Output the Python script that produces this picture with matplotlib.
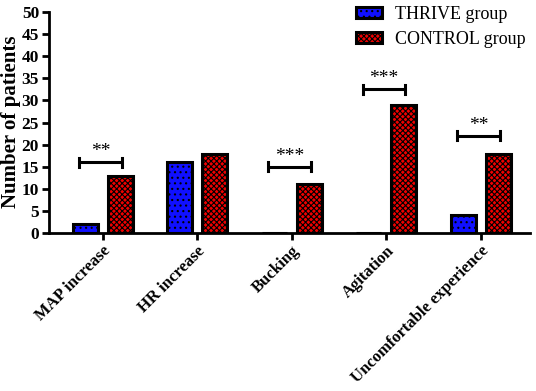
import numpy as np
import matplotlib
matplotlib.use("Agg")
import matplotlib.pyplot as plt

plt.rcParams['font.family'] = ['Liberation Serif', 'DejaVu Serif']
plt.rcParams['hatch.linewidth'] = 0.8

categories = ["MAP increase", "HR increase", "Bucking", "Agitation", "Uncomfortable experience"]
thrive = [2, 16, 0, 0, 4]
control = [13, 18, 11, 29, 18]

# significance brackets: category index, height, label
sig_idx = [0, 2, 3, 4]
sig_y = [16, 15, 32.5, 22]
sig_txt = ["**", "***", "***", "**"]

fig = plt.figure(figsize=(5.36, 3.91), dpi=100)
ax = fig.add_axes([0.091, 0.404, 0.898, 0.565])

x = np.arange(len(categories))
w = 0.265
off = 0.185
ax.bar(x - off, thrive, w, color='#1010ff', edgecolor='black', linewidth=2.2,
       hatch='...', label='THRIVE group', zorder=3)
ax.bar(x + off, control, w, color='#f00000', edgecolor='black', linewidth=2.2,
       hatch='xxxxxx', label='CONTROL group', zorder=3)

for i, yv, t in zip(sig_idx, sig_y, sig_txt):
    x0 = i - 0.25
    x1 = i + 0.2
    ax.plot([x0, x1], [yv, yv], color='black', lw=2.2, solid_capstyle='butt')
    ax.plot([x0, x0], [yv - 1, yv + 1], color='black', lw=2.2)
    ax.plot([x1, x1], [yv - 1, yv + 1], color='black', lw=2.2)
    ax.text((x0 + x1) / 2, yv + 0.5, t, ha='center', va='bottom', fontsize=14)

ax.set_xlim(-0.57, 4.52)
ax.set_ylim(0, 50)
ax.set_yticks(range(0, 51, 5))
ax.set_xticks(x)
ax.set_xticklabels(categories, rotation=45, ha='right', rotation_mode='anchor',
                   fontsize=12, fontweight='bold')
for lab in ax.get_yticklabels():
    lab.set_fontweight('bold')
    lab.set_fontsize(12.5)
ax.set_ylabel('Number of patients', fontsize=15, fontweight='bold')
ax.yaxis.set_label_coords(-0.057, 0.505)

ax.spines['top'].set_visible(False)
ax.spines['right'].set_visible(False)
ax.spines['left'].set_linewidth(2)
ax.spines['bottom'].set_linewidth(2)
ax.tick_params(axis='both', width=2, length=5, pad=2)

fig.legend(*ax.get_legend_handles_labels(), loc='upper left',
           bbox_to_anchor=(0.664, 0.985), bbox_transform=fig.transFigure,
           frameon=False, fontsize=13, borderpad=0, borderaxespad=0,
           handlelength=1.45, handleheight=0.6, handletextpad=0.7,
           labelspacing=0.45)

fig.savefig('out.png', dpi=100)
